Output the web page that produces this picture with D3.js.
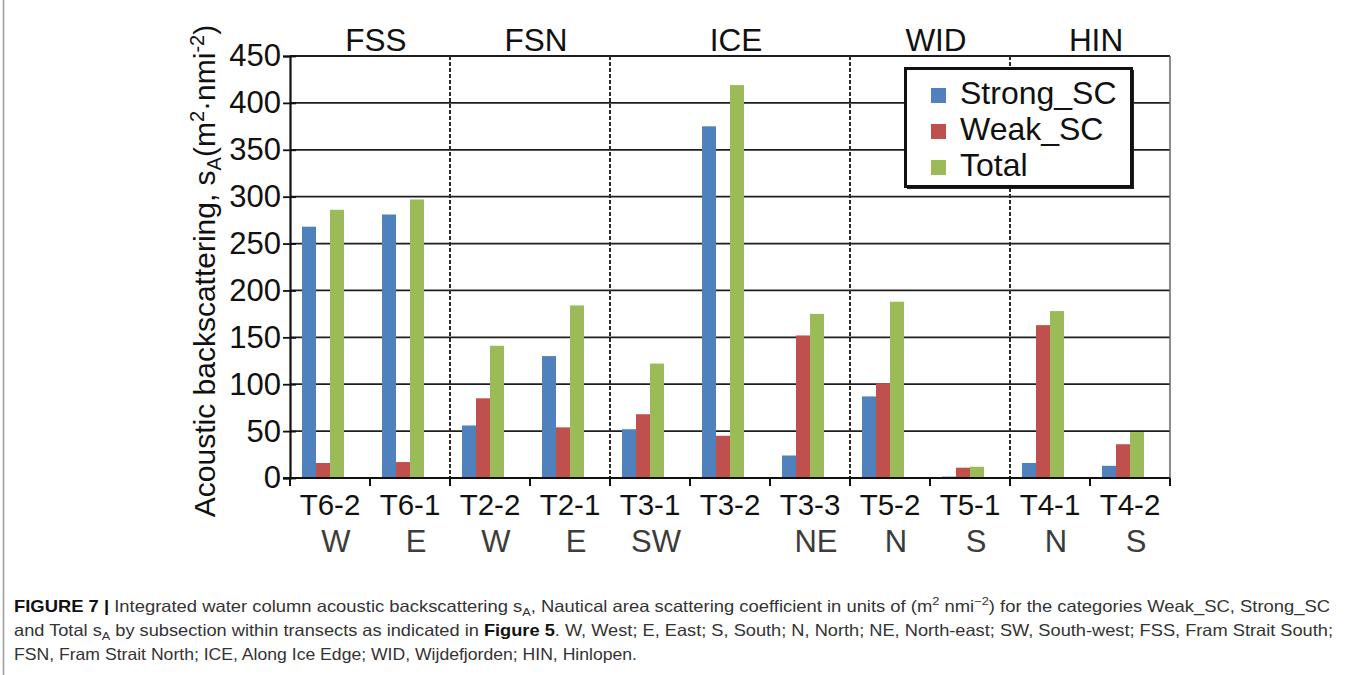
<!DOCTYPE html>
<html>
<head>
<meta charset="utf-8">
<script src="https://cdn.jsdelivr.net/npm/d3@7"></script>
<style>
  html, body { margin: 0; padding: 0; background: #fff; }
  svg { display: block; }
</style>
</head>
<body>
<div id="chart"></div>
<script>
// Subsections (transect segments) along the x axis
const categories = ["T6-2", "T6-1", "T2-2", "T2-1", "T3-1", "T3-2", "T3-3", "T5-2", "T5-1", "T4-1", "T4-2"];
const directions = ["W", "E", "W", "E", "SW", "", "NE", "N", "S", "N", "S"];

// Transect groups and how many subsections each one spans
const groups = ["FSS", "FSN", "ICE", "WID", "HIN"];
const groupSizes = [2, 2, 3, 2, 2];

// Integrated s_A (m² nmi⁻²) per subsection
const seriesNames = ["Strong_SC", "Weak_SC", "Total"];
const strongSC = [268, 281, 56, 130, 52, 375, 24, 87, 1.5, 16, 13];
const weakSC   = [16, 17, 85, 54, 68, 45, 152, 101, 11, 163, 36];
const totalSA  = [286, 297, 141, 184, 122, 419, 175, 188, 12, 178, 49];
const seriesColors = ["#4F81BD", "#C0504D", "#9BBB59"];

const yTicks = [0, 50, 100, 150, 200, 250, 300, 350, 400, 450];

const W = 1355, H = 675;
const svg = d3.select("#chart").append("svg")
  .attr("width", W).attr("height", H)
  .style("font-family", "'Liberation Sans', Arial, sans-serif");

svg.append("rect").attr("width", W).attr("height", H).attr("fill", "#fff");
// thin frame line down the left edge of the figure panel
svg.append("line").attr("x1", 3.5).attr("x2", 3.5).attr("y1", 0).attr("y2", H)
  .attr("stroke", "#9a9a9a").attr("stroke-width", 1.5);

const plot = { left: 290, right: 1170, top: 56, bottom: 478 };

const x = d3.scaleBand().domain(categories).range([plot.left, plot.right]).padding(0);
// four slots per subsection; the last one stays empty
const slot = d3.scaleBand().domain([0, 1, 2, 3]).range([0, x.bandwidth()])
  .paddingInner(0).paddingOuter(0.857);
const y = d3.scaleLinear().domain([0, 450]).range([plot.bottom, plot.top]);

// horizontal gridlines
svg.append("g").selectAll("line").data(yTicks.filter(d => d > 0)).join("line")
  .attr("x1", plot.left).attr("x2", plot.right)
  .attr("y1", d => y(d)).attr("y2", d => y(d))
  .attr("stroke", "#1e1e1e").attr("stroke-width", 1.8);

// right frame line
svg.append("line").attr("x1", plot.right).attr("x2", plot.right)
  .attr("y1", plot.top).attr("y2", plot.bottom)
  .attr("stroke", "#666").attr("stroke-width", 1.5);

// bars
const series = [strongSC, weakSC, totalSA];
series.forEach((vals, si) => {
  svg.append("g").selectAll("rect").data(categories).join("rect")
    .attr("x", (c) => x(c) + slot(si))
    .attr("width", slot.bandwidth())
    .attr("y", (c, i) => y(vals[i]))
    .attr("height", (c, i) => y(0) - y(vals[i]))
    .attr("fill", seriesColors[si]);
});

// dashed separators between transect groups
const boundaries = [];
let acc = 0;
groupSizes.forEach((n, gi) => {
  const start = acc;
  acc += n;
  boundaries.push({ name: groups[gi], from: categories[start], to: categories[acc - 1], end: acc });
});
const sepX = boundaries.slice(0, -1).map(b => x(categories[b.end]));
svg.append("g").selectAll("line").data(sepX).join("line")
  .attr("x1", d => d).attr("x2", d => d)
  .attr("y1", plot.top).attr("y2", plot.bottom + 8)
  .attr("stroke", "#2a2a2a").attr("stroke-width", 2)
  .attr("stroke-dasharray", "4,2");

// x axis with ticks at subsection boundaries
const xTickPos = categories.map(c => x(c)).concat([plot.right]);
svg.append("line").attr("x1", plot.left - 7).attr("x2", plot.right)
  .attr("y1", y(0)).attr("y2", y(0)).attr("stroke", "#111").attr("stroke-width", 2.2);
svg.append("g").selectAll("line").data(xTickPos).join("line")
  .attr("x1", d => d).attr("x2", d => d)
  .attr("y1", y(0)).attr("y2", y(0) + 8)
  .attr("stroke", "#111").attr("stroke-width", 2);

// y axis
const yAxis = d3.axisLeft(y).tickValues(yTicks).tickSize(7).tickPadding(3).tickFormat(d3.format("d"));
const yg = svg.append("g").attr("transform", `translate(${plot.left},0)`).call(yAxis);
yg.select(".domain").attr("stroke", "#111").attr("stroke-width", 2.2);
yg.selectAll(".tick line").attr("stroke", "#111").attr("stroke-width", 1.8).attr("x2", 6).attr("x1", -7);
yg.selectAll(".tick text").attr("font-size", 31).attr("fill", "#111")
  .attr("font-family", "'Liberation Sans', Arial, sans-serif").attr("x", -9);

// category labels (two lines)
svg.append("g").selectAll("text").data(categories).join("text")
  .attr("x", c => x(c) + x.bandwidth() / 2).attr("y", 515)
  .attr("text-anchor", "middle").attr("font-size", 29.5).attr("fill", "#111")
  .text(c => c);
svg.append("g").selectAll("text").data(categories).join("text")
  .attr("x", c => x(c) + x.bandwidth() / 2).attr("dx", 6).attr("y", 552)
  .attr("text-anchor", "middle").attr("font-size", 31).attr("fill", "#3c3c3c")
  .text((c, i) => directions[i]);

// transect group titles
svg.append("g").selectAll("text").data(boundaries).join("text")
  .attr("x", b => (x(b.from) + x(b.to) + x.bandwidth()) / 2).attr("dx", 6)
  .attr("y", 51).attr("text-anchor", "middle").attr("font-size", 31.5).attr("fill", "#111")
  .text(b => b.name);

// y axis title with sub/superscripts
const yt = svg.append("text")
  .attr("transform", "translate(215,271) rotate(-90)")
  .attr("text-anchor", "middle").attr("font-size", 30).attr("fill", "#111");
yt.append("tspan").text("Acoustic backscattering, s");
yt.append("tspan").attr("font-size", 20).attr("dy", 6).text("A");
yt.append("tspan").attr("dy", -6).text("(m");
yt.append("tspan").attr("font-size", 20).attr("dy", -11).text("2");
yt.append("tspan").attr("dy", 11).text("·nmi");
yt.append("tspan").attr("font-size", 20).attr("dy", -11).text("-2");
yt.append("tspan").attr("dy", 11).text(")");

// legend
const lg = svg.append("g");
lg.append("rect").attr("x", 907).attr("y", 70).attr("width", 227).attr("height", 119).attr("fill", "#222");
lg.append("rect").attr("x", 905.5).attr("y", 68.5).attr("width", 226).attr("height", 118)
  .attr("fill", "#fff").attr("stroke", "#111").attr("stroke-width", 3);
const ly = d3.scalePoint().domain(seriesNames).range([104, 176]);
lg.selectAll("rect.key").data(seriesNames).join("rect").attr("class", "key")
  .attr("x", 931).attr("y", d => ly(d) - 16).attr("width", 15).attr("height", 15)
  .attr("fill", (d, i) => seriesColors[i]);
lg.selectAll("text").data(seriesNames).join("text")
  .attr("x", 960).attr("y", d => ly(d)).attr("font-size", 32).attr("fill", "#111")
  .text(d => d);

// caption
const capFont = "'Liberation Sans Narrow', 'Liberation Sans', Arial, sans-serif";
const capLines = [
  { y: 612, len: 1316, parts: [
    { t: "FIGURE 7 | ", b: true },
    { t: "Integrated water column acoustic backscattering s" },
    { t: "A", sub: true },
    { t: ", Nautical area scattering coefficient in units of (m" },
    { t: "2", sup: true },
    { t: " nmi" },
    { t: "−2", sup: true },
    { t: ") for the categories Weak_SC, Strong_SC" } ] },
  { y: 636, len: 1319, parts: [
    { t: "and Total s" },
    { t: "A", sub: true },
    { t: " by subsection within transects as indicated in " },
    { t: "Figure 5", b: true },
    { t: ". W, West; E, East; S, South; N, North; NE, North-east; SW, South-west; FSS, Fram Strait South;" } ] },
  { y: 660, len: 623, parts: [
    { t: "FSN, Fram Strait North; ICE, Along Ice Edge; WID, Wijdefjorden; HIN, Hinlopen." } ] }
];
capLines.forEach(line => {
  const t = svg.append("text").attr("x", 14).attr("y", line.y)
    .attr("font-family", capFont).attr("font-size", 16.5).attr("fill", "#333")
    .attr("textLength", line.len).attr("lengthAdjust", "spacingAndGlyphs");
  let shift = 0;
  line.parts.forEach(p => {
    const ts = t.append("tspan").text(p.t);
    let target = 0;
    if (p.sub) { ts.attr("font-size", 11.5); target = 4; }
    if (p.sup) { ts.attr("font-size", 11.5); target = -7; }
    if (p.b) ts.attr("font-weight", "bold").attr("fill", "#111");
    ts.attr("dy", target - shift);
    shift = target;
  });
});
</script>
</body>
</html>
